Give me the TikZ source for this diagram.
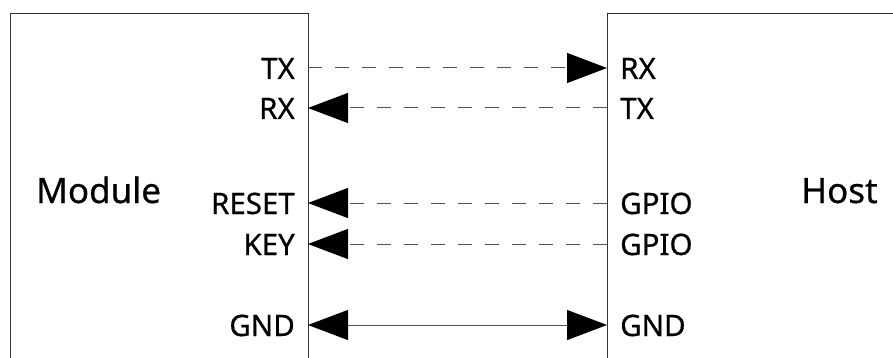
\documentclass[tikz,border=0pt]{standalone}
\usepackage{fontspec}
\setmainfont{Noto Sans}[FakeBold=0.6]
\usetikzlibrary{arrows.meta}
\definecolor{boxc}{HTML}{333333}
\definecolor{linec}{HTML}{505050}
\tikzset{
  boxline/.style={draw=boxc, line width=1.4pt},
  conn/.style={draw=linec, line width=1pt},
  dconn/.style={conn, dash pattern=on 14pt off 13pt},
  pinl/.style={anchor=base east, inner sep=0pt, font=\fontsize{29.5}{31}\selectfont},
  pinr/.style={anchor=base west, inner sep=0pt, font=\fontsize{29.5}{31}\selectfont},
  title/.style={anchor=base west, inner sep=0pt, font=\fontsize{35}{38}\selectfont}
}
\begin{document}
\begin{tikzpicture}[x=1pt,y=-1pt,
  >={Triangle[length=40pt,width=30pt,color=black]}]
\useasboundingbox (0,0) rectangle (893,358);
\clip (0,0) rectangle (893,358);
% boxes
\node[boxline, rectangle, minimum width=298pt, minimum height=400pt, anchor=north west, inner sep=0pt] (mod) at (10,13) {};
\node[boxline, rectangle, minimum width=400pt, minimum height=400pt, anchor=north west, inner sep=0pt] (host) at (607,13) {};
\node[title] (modt) at (36,203) {Module};
\node[title] (hostt) at (801,203) {Host};
% pin coordinates
\coordinate (mTX) at (308,68);
\coordinate (mRX) at (308,108);
\coordinate (mRST) at (308,203);
\coordinate (mKEY) at (308,244);
\coordinate (mGND) at (308,325);
\coordinate (hRX) at (607,68);
\coordinate (hTX) at (607,108);
\coordinate (hG1) at (607,203);
\coordinate (hG2) at (607,244);
\coordinate (hGND) at (607,325);
% labels
\node[pinl] (lTX) at (295,79) {TX};
\node[pinl] (lRX) at (295,119) {RX};
\node[pinl] (lRST) at (295,214) {RESET};
\node[pinl] (lKEY) at (295,255) {KEY};
\node[pinl] (lGND) at (295,336) {GND};
\node[pinr] (rRX) at (620,79) {RX};
\node[pinr] (rTX) at (620,119) {TX};
\node[pinr] (rG1) at (620,214) {GPIO};
\node[pinr] (rG2) at (620,255) {GPIO};
\node[pinr] (rGND) at (620,336) {GND};
% connectors
\draw[dconn, ->] (mTX) -- (hRX);
\draw[dconn, ->] (hTX) -- (mRX);
\draw[dconn, ->] (hG1) -- (mRST);
\draw[dconn, ->] (hG2) -- (mKEY);
\draw[conn, <->] (mGND) -- (hGND);
\end{tikzpicture}
\end{document}
